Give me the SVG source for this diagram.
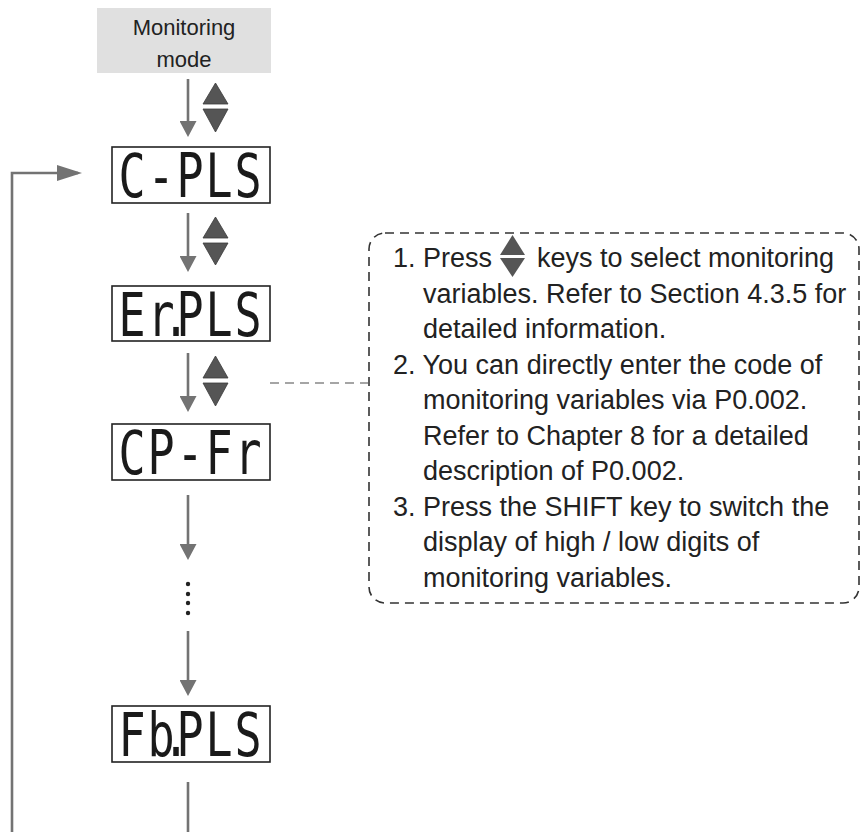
<svg xmlns="http://www.w3.org/2000/svg" width="861" height="832" viewBox="0 0 861 832">
<style>
.lbl{font-family:"Liberation Sans",Arial,sans-serif;fill:#222}
.disp{fill:#fff;stroke:#222;stroke-width:1.6}
.seg{font-family:"DejaVu Sans Mono","Liberation Mono",monospace;font-size:60px;fill:#1a1a1a;text-anchor:middle}
.conn{stroke:#737373;stroke-width:2.6;fill:none}
.key{fill:#555;stroke:#3a3a3a;stroke-width:0.8}
</style>
<defs>
<marker id="ah" viewBox="0 0 16 17" refX="12" refY="8.5" markerWidth="16" markerHeight="17" markerUnits="userSpaceOnUse" orient="auto">
<path d="M0,0 L16,8.5 L0,17 z" fill="#737373"/>
</marker>
<marker id="ahL" viewBox="0 0 25 16" refX="21" refY="8" markerWidth="25" markerHeight="16" markerUnits="userSpaceOnUse" orient="auto">
<path d="M0,0 L25,8 L0,16 z" fill="#737373"/>
</marker>
</defs>
<rect width="861" height="832" fill="#fff"/>

<g id="mode">
<rect x="97" y="8" width="174" height="65" fill="#e0e0e0"/>
<text class="lbl" x="184" y="35" font-size="22" text-anchor="middle">Monitoring</text>
<text class="lbl" x="184" y="67" font-size="22" text-anchor="middle">mode</text>
</g>

<g id="n-cpls">
<rect class="disp" x="112" y="147" width="158" height="56"/>
<text class="seg" transform="scale(0.75,1)" x="176 214.67 253.33 292 330.67" y="197">C-PLS</text>
</g>

<g id="n-erpls">
<rect class="disp" x="112" y="286" width="158" height="55"/>
<text class="seg" transform="scale(0.75,1)" x="176 214.67 234.67 253.33 292 330.67" y="336">Er.PLS</text>
</g>

<g id="n-cpfr">
<rect class="disp" x="112" y="424" width="158" height="56"/>
<text class="seg" transform="scale(0.75,1)" x="176 214.67 253.33 292 330.67" y="474">CP-Fr</text>
</g>

<g id="n-more">
<circle cx="188" cy="584" r="2.2" fill="#222"/>
<circle cx="188" cy="594" r="2.2" fill="#222"/>
<circle cx="188" cy="603" r="2.2" fill="#222"/>
<circle cx="188" cy="613" r="2.2" fill="#222"/>
</g>

<g id="n-fbpls">
<rect class="disp" x="112" y="706" width="158" height="56"/>
<text class="seg" transform="scale(0.75,1)" x="176 214.67 234.67 253.33 292 330.67" y="756">Fb.PLS</text>
</g>

<g id="connectors">
<line class="conn" x1="188" y1="79" x2="188" y2="133" marker-end="url(#ah)"/>
<line class="conn" x1="188" y1="213" x2="188" y2="268" marker-end="url(#ah)"/>
<line class="conn" x1="188" y1="353" x2="188" y2="408" marker-end="url(#ah)"/>
<line class="conn" x1="188" y1="495" x2="188" y2="556" marker-end="url(#ah)"/>
<line class="conn" x1="188" y1="631" x2="188" y2="692" marker-end="url(#ah)"/>
<line class="conn" x1="188" y1="782" x2="188" y2="832"/>
<polyline class="conn" points="12,832 12,173 78,173" marker-end="url(#ahL)"/>
<line x1="270" y1="383" x2="368" y2="383" stroke="#888" stroke-width="1.5" stroke-dasharray="9 6"/>
</g>

<g id="keys">
<polygon class="key" points="203,104 228,104 215.5,83"/>
<polygon class="key" points="203,109 228,109 215.5,132"/>
<polygon class="key" points="203,238 228,238 215.5,217"/>
<polygon class="key" points="203,243 228,243 215.5,265"/>
<polygon class="key" points="203,378 228,378 215.5,356"/>
<polygon class="key" points="203,383 228,383 215.5,406"/>
</g>

<g id="note">
<rect x="369" y="233" width="490" height="370" rx="16" fill="none" stroke="#333" stroke-width="1.6" stroke-dasharray="9 6"/>
<polygon points="500,255 525,255 512.5,235" fill="#555"/>
<polygon points="500,258 525,258 512.5,277" fill="#555"/>
<g class="lbl" font-size="27">
<text x="393" y="267">1. Press<tspan x="537">keys to select monitoring</tspan></text>
<text x="423" y="302.5">variables. Refer to Section 4.3.5 for</text>
<text x="423" y="338">detailed information.</text>
<text x="393" y="373.5">2. You can directly enter the code of</text>
<text x="423" y="409">monitoring variables via P0.002.</text>
<text x="423" y="444.5">Refer to Chapter 8 for a detailed</text>
<text x="423" y="480">description of P0.002.</text>
<text x="393" y="515.5">3. Press the SHIFT key to switch the</text>
<text x="423" y="551">display of high / low digits of</text>
<text x="423" y="586.5">monitoring variables.</text>
</g>
</g>
</svg>
